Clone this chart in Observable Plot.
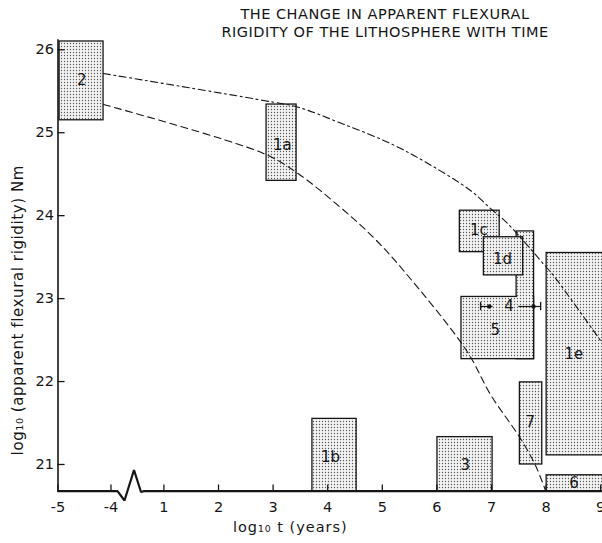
<!DOCTYPE html>
<html><head><meta charset="utf-8">
<script src="https://cdn.jsdelivr.net/npm/d3@7"></script>
<script src="https://cdn.jsdelivr.net/npm/@observablehq/plot@0.6"></script>
<style>
body{margin:0;background:#fff;}
#wrap{position:relative;width:602px;height:543px;overflow:hidden;font-family:"DejaVu Sans",sans-serif;}
#title{position:absolute;left:0;top:5px;width:770px;text-align:center;font-size:14.5px;letter-spacing:0.5px;line-height:18.3px;color:#151515;}
</style></head><body><div id="wrap"></div>
<script>
// ---- data (log10 t in years, log10 D in Nm) ----
const xTicks = [-5, -4, 1, 2, 3, 4, 5, 6, 7, 8, 9];
const yTicks = [21, 22, 23, 24, 25, 26];
const Y0 = 20.678; // bottom of the value axis

const boxLabel = ["2", "1a", "1b", "3", "1c", "1e", "7", "6"];
const boxT0 =    [-4.97, 2.88, 3.72, 6.01, 6.42, 8.01, 7.52, 8.01];
const boxT1 =    [-4.14, 3.43, 4.53, 7.02, 7.15, 9.25, 7.93, 9.25];
const boxLo =    [25.15, 24.42, Y0,  Y0,   23.56, 21.11, 21.00, Y0];
const boxHi =    [26.10, 25.34, 21.55, 21.33, 24.06, 23.55, 21.99, 20.87];
const labelT =   [-4.55, 3.17, 4.05, 6.52, 6.77, 8.51, 7.71, 8.51];
const labelV =   [25.63, 24.85, 21.09, 20.99, 23.83, 22.33, 21.51, 20.77];

// boxes 4 and 5 share one outline, box 1d lies over them
const unionLabel = ["4", "5"];
const unionT0 = [7.46, 6.45];
const unionT1 = [7.78, 7.78];
const unionLo = [22.27, 22.27];
const unionHi = [23.81, 23.02];
const box1d = {label: "1d", t0: 6.86, t1: 7.58, lo: 23.28, hi: 23.74, lt: 7.20, lv: 23.48};
const label4 = {label: "4", t: 7.32, v: 22.905};
const label5 = {label: "5", t: 7.07, v: 22.62};

// range bar of result 4
const rangeV = 22.905;
const rangeSegT0 = [6.80, 7.49];
const rangeSegT1 = [7.02, 7.90];
const rangeDotT = [6.96, 7.77];
const rangeCapT = [6.80, 7.90];

// curves
const upperT = [-4.141, 2.824, 3.446, 4.234, 5.150, 5.882, 6.615, 6.981, 7.293, 8.025, 8.135, 8.996];
const upperV = [25.714, 25.389, 25.310, 25.117, 24.870, 24.611, 24.304, 24.087, 23.906, 23.363, 23.279, 22.495];
const lowerT = [-4.141, 2.824, 3.428, 4.234, 4.838, 5.388, 6.542, 6.981, 7.531, 7.806, 7.989];
const lowerV = [25.340, 24.750, 24.521, 24.099, 23.737, 23.339, 22.374, 21.844, 21.313, 20.988, 20.687];

// axis break (in plotted units: -5 -> 0, -4 -> 0.97, 1 -> 1.94)
const axisBreakX = [0, 1.09, 1.218, 1.392, 1.52, 1.566, 10.4];
const axisBreakY = [Y0, Y0, 20.566, 20.934, 20.668, Y0, Y0];

// broken time axis: -5..-4 then 1..9
const SX = t => t <= -3.5 ? (t + 5) * 0.97 : t + 0.94;

const boxes = boxLabel.map((l, i) => ({label: l, x1: SX(boxT0[i]), x2: SX(boxT1[i]), y1: boxLo[i], y2: boxHi[i], lx: SX(labelT[i]), ly: labelV[i]}));
const before = boxes.slice(0, 5), after = boxes.slice(5);
const union = unionLabel.map((l, i) => ({label: l, x1: SX(unionT0[i]), x2: SX(unionT1[i]), y1: unionLo[i], y2: unionHi[i]}));
const d1 = [{x1: SX(box1d.t0), x2: SX(box1d.t1), y1: box1d.lo, y2: box1d.hi, lx: SX(box1d.lt), ly: box1d.lv, label: box1d.label}];
const upper = upperT.map((t, i) => ({x: SX(t), y: upperV[i]}));
const lower = lowerT.map((t, i) => ({x: SX(t), y: lowerV[i]}));
const axisPts = axisBreakX.map((x, i) => ({x, y: axisBreakY[i]}));
const segs = rangeSegT0.map((t, i) => ({x1: SX(t), x2: SX(rangeSegT1[i]), y: rangeV}));

const INK = "#161616";
const FILL = "url(#stip)";
const rectOpts = {x1: "x1", x2: "x2", y1: "y1", y2: "y2", fill: FILL, stroke: INK, strokeWidth: 1.3};
const X_TITLE = "log₁₀ t (years)";
const Y_TITLE = "log₁₀ (apparent flexural rigidity) Nm";

const chart = Plot.plot({
  width: 602, height: 543,
  marginLeft: 57.5, marginRight: 1.8, marginTop: 32.7, marginBottom: 52.3,
  x: {type: "linear", domain: [0, 9.94], axis: null},
  y: {type: "linear", domain: [Y0, 26.2], axis: null},
  style: {fontFamily: "DejaVu Sans, sans-serif", fontSize: "14.5px", color: INK, background: "transparent"},
  marks: [
    Plot.rect(before, rectOpts),
    Plot.rect(union, rectOpts),
    Plot.rect(union, {x1: "x1", x2: "x2", y1: "y1", y2: "y2", fill: FILL, insetLeft: 1, insetRight: 1, insetTop: 1, insetBottom: 1}),
    Plot.rect(d1, rectOpts),
    Plot.rect(after, rectOpts),
    Plot.text(before.concat(after), {x: "lx", y: "ly", text: "label", fontSize: 15, fill: INK}),
    Plot.text(d1, {x: "lx", y: "ly", text: "label", fontSize: 15, fill: INK}),
    Plot.text([label4, label5], {x: d => SX(d.t), y: "v", text: "label", fontSize: 15, fill: INK}),
    // range bar of 4
    Plot.link(segs, {x1: "x1", x2: "x2", y1: "y", y2: "y", stroke: INK, strokeWidth: 1.2}),
    Plot.dot(rangeDotT, {x: SX, y: () => rangeV, r: 2.2, fill: INK}),
    Plot.ruleX(rangeCapT, {x: SX, y1: rangeV - 0.05, y2: rangeV + 0.05, stroke: INK, strokeWidth: 1.3}),
    // curves
    Plot.line(upper, {x: "x", y: "y", curve: "catmull-rom", stroke: INK, strokeWidth: 1.1, strokeDasharray: "7,3.5,2,3.5"}),
    Plot.line(lower, {x: "x", y: "y", curve: "catmull-rom", stroke: INK, strokeWidth: 1.1, strokeDasharray: "7,4.5"}),
    // axes
    Plot.line(axisPts, {x: "x", y: "y", stroke: INK, strokeWidth: 2.2, strokeLinejoin: "miter"}),
    Plot.ruleX([0], {y1: Y0, y2: 26.12, stroke: INK, strokeWidth: 1.6}),
    Plot.ruleY(yTicks, {x1: 0, x2: 0.13, stroke: INK, strokeWidth: 1.3}),
    Plot.ruleX(xTicks, {x: SX, y1: Y0, y2: Y0 + 0.075, stroke: INK, strokeWidth: 1.3}),
    Plot.text(yTicks, {x: 0, y: d => d, text: d => String(d), dx: -4, textAnchor: "end", fill: INK}),
    Plot.text(xTicks, {x: SX, y: () => Y0, text: d => String(d), dy: 16, fill: INK}),
    Plot.text([X_TITLE], {frameAnchor: "bottom", textAnchor: "middle", dx: -39, dy: 41, text: d => d, fill: INK, fontSize: 14.5}),
    Plot.text([Y_TITLE], {frameAnchor: "left", textAnchor: "middle", rotate: -90, dx: -40, dy: 48, text: d => d, fill: INK, fontSize: 15})
  ]
});

// widen the hand-lettered axis titles a little
d3.select(chart).selectAll("text").filter(function() { return this.textContent === Y_TITLE; }).style("letter-spacing", "0.6px");
d3.select(chart).selectAll("text").filter(function() { return this.textContent === X_TITLE; }).style("letter-spacing", "1px");

// stipple pattern for the result boxes
const defs = d3.select(chart).insert("defs", ":first-child");
const pat = defs.append("pattern").attr("id", "stip").attr("width", 3).attr("height", 3).attr("patternUnits", "userSpaceOnUse");
pat.append("rect").attr("width", 3).attr("height", 3).attr("fill", "#f3f3f3");
pat.append("circle").attr("cx", 1.5).attr("cy", 1.5).attr("r", 0.65).attr("fill", "#555");

const wrap = document.getElementById("wrap");
chart.style.position = "absolute";
chart.style.left = "0"; chart.style.top = "0";
wrap.appendChild(chart);
const title = document.createElement("div");
title.id = "title";
title.innerHTML = "THE CHANGE IN APPARENT FLEXURAL<br>RIGIDITY OF THE LITHOSPHERE WITH TIME";
wrap.appendChild(title);
</script>
</body></html>
